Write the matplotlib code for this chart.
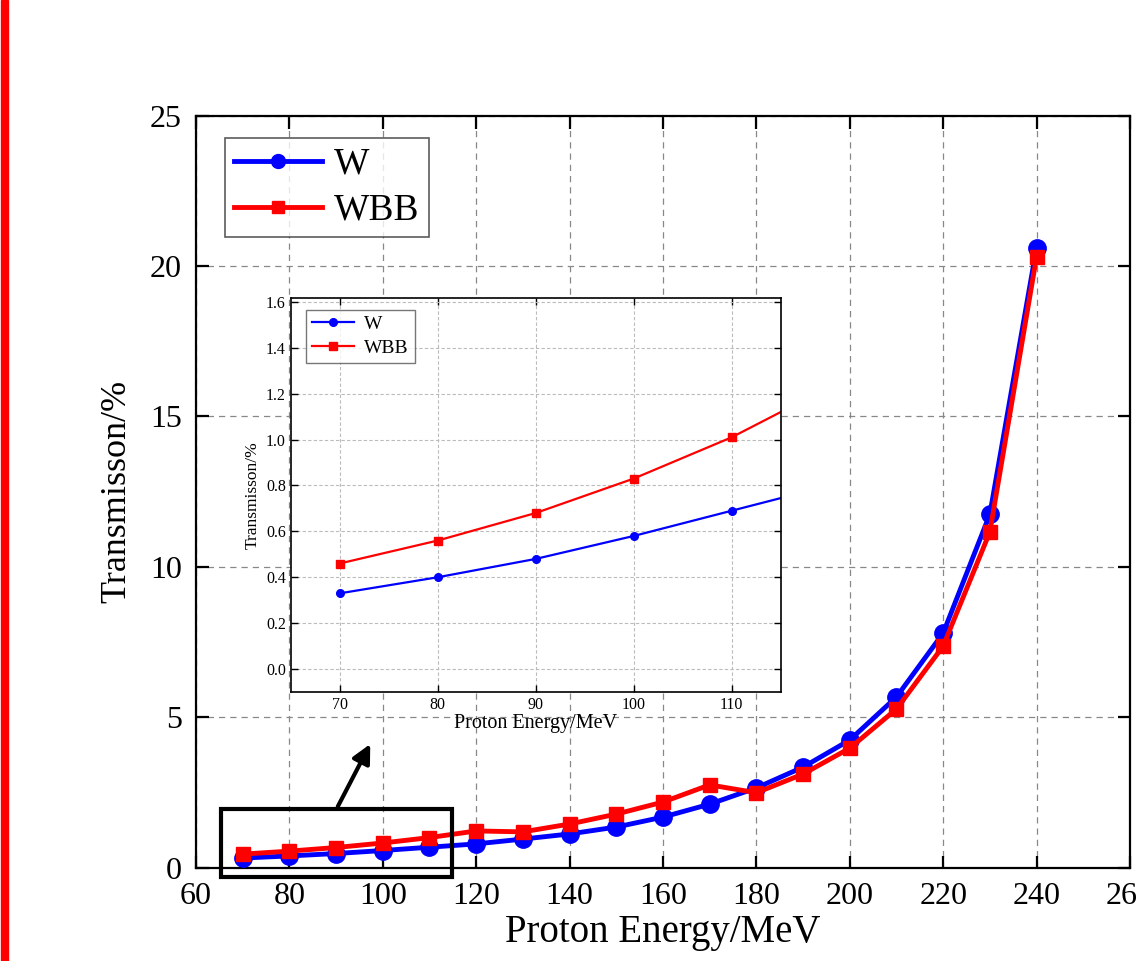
import matplotlib.pyplot as plt
import matplotlib.patches as patches

# proton energy (MeV) and transmission (%) for the two shielding materials
energy = [70, 80, 90, 100, 110, 120, 130, 140, 150, 160, 170, 180, 190, 200, 210, 220, 230, 240]
trans_w = [0.33, 0.40, 0.48, 0.58, 0.69, 0.80, 0.96, 1.13, 1.36, 1.69, 2.12, 2.66, 3.35, 4.25,
           5.68, 7.80, 11.75, 20.60]
trans_wbb = [0.46, 0.56, 0.68, 0.83, 1.01, 1.23, 1.20, 1.46, 1.79, 2.19, 2.76, 2.50, 3.12, 3.98,
             5.28, 7.37, 11.16, 20.30]

main_xticks = [60, 80, 100, 120, 140, 160, 180, 200, 220, 240, 260]
main_yticks = [0, 5, 10, 15, 20, 25]
inset_xticks = [70, 80, 90, 100, 110]
inset_yticks = [0.0, 0.2, 0.4, 0.6, 0.8, 1.0, 1.2, 1.4, 1.6]

plt.rcParams['font.family'] = ['Liberation Serif', 'DejaVu Serif']

fig = plt.figure(figsize=(11.38, 9.61), dpi=100)

# red bar along the left edge of the picture
fig.patches.append(patches.Rectangle((0.001, 0), 0.006, 1, transform=fig.transFigure,
                                     color='#ff0000', zorder=0))

ax = fig.add_axes([0.1722, 0.0968, 0.8207, 0.783])
ax.plot(energy, trans_w, color='#0000ff', lw=3.5, marker='o', ms=12.5, label='W', zorder=3)
ax.plot(energy, trans_wbb, color='#ff0000', lw=3.5, marker='s', ms=10.5, label='WBB', zorder=4)

ax.set_xlim(60, 260)
ax.set_ylim(0, 25)
ax.set_xticks(main_xticks)
ax.set_yticks(main_yticks)
ax.tick_params(direction='in', length=9, width=1.6, labelsize=23, top=True, right=True, pad=10)
for s in ax.spines.values():
    s.set_linewidth(1.6)
ax.grid(True, color='#888888', ls=(0, (5, 4)), lw=0.9)
ax.set_xlabel('Proton Energy/MeV', fontsize=28, labelpad=2)
ax.set_ylabel('Transmisson/%', fontsize=26, labelpad=12)

leg = ax.legend(loc='upper left', bbox_to_anchor=(0.031, 0.97), borderaxespad=0, fontsize=27,
                fancybox=False, edgecolor='#333333', handlelength=2.35, handletextpad=0.3,
                borderpad=0.25, labelspacing=0.3, markerscale=0.8)
leg.get_frame().set_linewidth(1.2)

# box around the zoomed region and arrow pointing at the inset
ax.add_patch(patches.Rectangle((65.3, -0.3), 49.5, 2.26, fill=False, ec='k', lw=3, clip_on=False, zorder=5))
ax.annotate('', xy=(97.6, 4.2), xytext=(90.1, 1.96),
            arrowprops=dict(arrowstyle='-|>', color='k', lw=3, mutation_scale=28))

# inset with the low energy part
ins = fig.add_axes([0.2554, 0.2799, 0.4306, 0.41])
ins.plot(energy, trans_w, color='#0000ff', lw=1.6, marker='o', ms=5.5, label='W')
ins.plot(energy, trans_wbb, color='#ff0000', lw=1.6, marker='s', ms=5.5, label='WBB')
ins.set_xlim(65, 115)
ins.set_ylim(-0.1, 1.617)
ins.set_xticks(inset_xticks)
ins.set_yticks(inset_yticks)
ins.set_yticklabels([f'{v:.1f}' for v in inset_yticks])
ins.tick_params(direction='in', length=5, width=1.0, labelsize=11.5, top=True, right=True)
for s in ins.spines.values():
    s.set_linewidth(1.2)
ins.grid(True, color='#bbbbbb', ls=(0, (3, 2)), lw=0.8)
ins.set_xlabel('Proton Energy/MeV', fontsize=14.5, labelpad=1)
ins.set_ylabel('Transmisson/%', fontsize=12.5, labelpad=4)
ileg = ins.legend(loc='upper left', bbox_to_anchor=(0.031, 0.97), borderaxespad=0, fontsize=14,
                  fancybox=False, edgecolor='#555555', handlelength=2.2, handletextpad=0.5,
                  borderpad=0.3, labelspacing=0.3)
ileg.get_frame().set_linewidth(1.0)

fig.savefig('out.png', dpi=100)
